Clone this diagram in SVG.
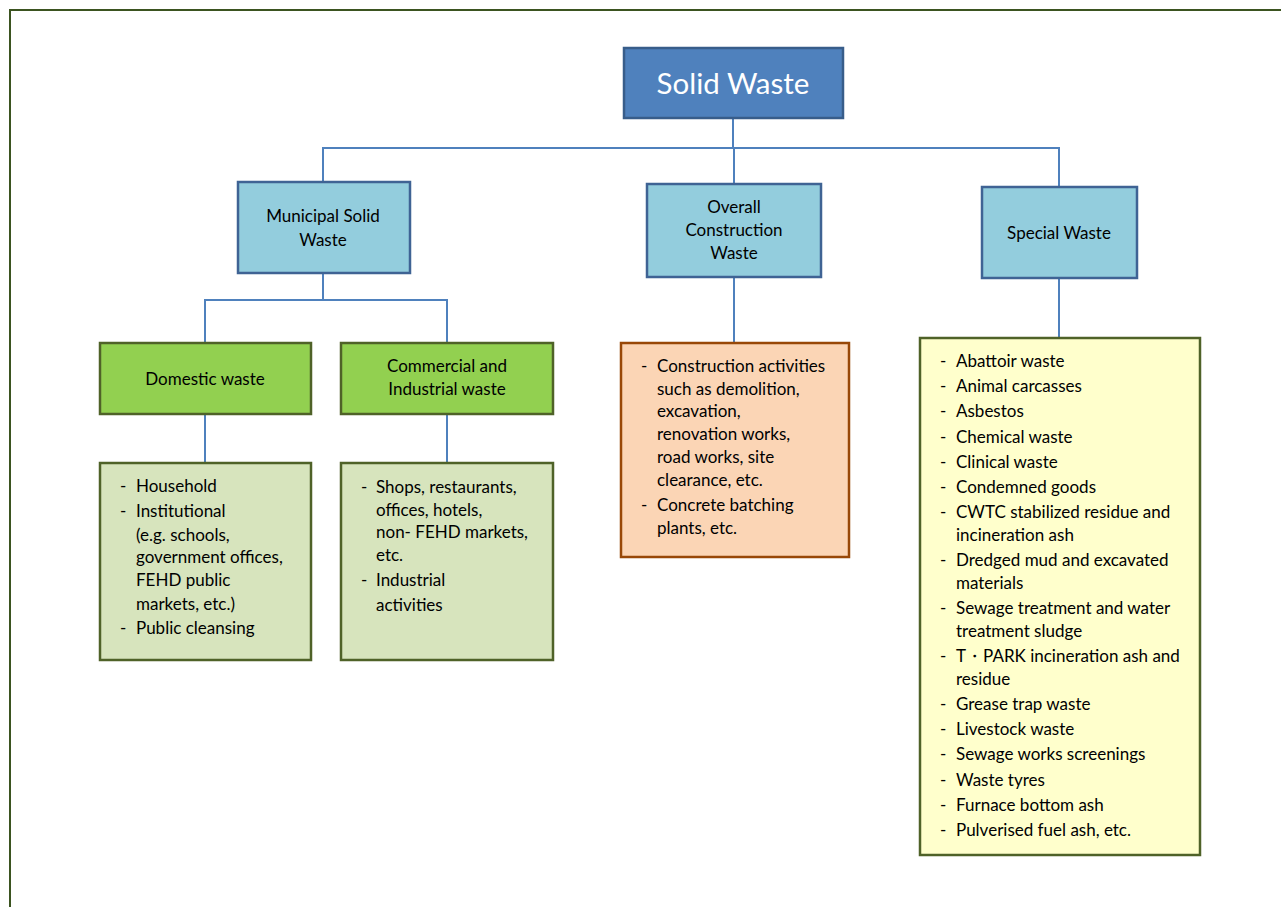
<svg xmlns="http://www.w3.org/2000/svg" width="1281" height="907" viewBox="0 0 1281 907">
<style>
text{font-family:Lato,"Open Sans","Liberation Sans",sans-serif;font-size:17px;fill:#000}
.c{text-anchor:middle}
.blue{fill:#93cddd;stroke:#3f6394;stroke-width:2.5}
.green{fill:#92d050;stroke:#4f6228;stroke-width:2.5}
.lg{fill:#d7e4bd;stroke:#4f6228;stroke-width:2.5}
.or{fill:#fbd5b5;stroke:#984807;stroke-width:2.5}
.ye{fill:#ffffcc;stroke:#4f6228;stroke-width:2.5}
.conn{fill:none;stroke:#4f81bd;stroke-width:2}
</style>
<rect width="1281" height="907" fill="#fff"/>
<path d="M10,907 V10 H1281" fill="none" stroke="#3b5320" stroke-width="2"/>
<g id="connectors" class="conn">
<path d="M733,118 V148 M323,182 V148 H1059 V187 M734,148 V185"/>
<path d="M323,273 V300 M205,343 V300 H447 V343"/>
<path d="M205,414 V463 M447,414 V463"/>
<path d="M734,277 V343"/>
<path d="M1059,278 V338"/>
</g>
<g id="solid-waste">
<rect x="624" y="48" width="219" height="70" fill="#4f81bd" stroke="#385d8a" stroke-width="2.5"/>
<text x="733" y="94" class="c" style="font-size:29.5px;fill:#fff">Solid Waste</text>
</g>
<g id="municipal">
<rect class="blue" x="238" y="182" width="172" height="91"/>
<text x="323" y="222" class="c">Municipal Solid</text>
<text x="323" y="246" class="c">Waste</text>
</g>
<g id="construction">
<rect class="blue" x="647" y="184" width="174" height="93"/>
<text x="734" y="213" class="c">Overall</text>
<text x="734" y="236" class="c">Construction</text>
<text x="734" y="259" class="c">Waste</text>
</g>
<g id="special">
<rect class="blue" x="982" y="187" width="155" height="91"/>
<text x="1059" y="239" class="c">Special Waste</text>
</g>
<g id="domestic">
<rect class="green" x="100" y="343" width="211" height="71"/>
<text x="205" y="385" class="c">Domestic waste</text>
</g>
<g id="commercial">
<rect class="green" x="341" y="343" width="212" height="71"/>
<text x="447" y="372" class="c">Commercial and</text>
<text x="447" y="395" class="c">Industrial waste</text>
</g>
<g id="domestic-list">
<rect class="lg" x="100" y="463" width="211" height="197"/>
<text x="120" y="492">-</text><text x="136" y="492">Household</text>
<text x="120" y="517">-</text><text x="136" y="517">Institutional</text>
<text x="136" y="541">(e.g. schools,</text>
<text x="136" y="563">government offices,</text>
<text x="136" y="586">FEHD public</text>
<text x="136" y="610">markets, etc.)</text>
<text x="120" y="634">-</text><text x="136" y="634">Public cleansing</text>
</g>
<g id="commercial-list">
<rect class="lg" x="341" y="463" width="212" height="197"/>
<text x="361" y="493">-</text><text x="376" y="493">Shops, restaurants,</text>
<text x="376" y="516">offices, hotels,</text>
<text x="376" y="538">non- FEHD markets,</text>
<text x="376" y="561">etc.</text>
<text x="361" y="586">-</text><text x="376" y="586">Industrial</text>
<text x="376" y="611">activities</text>
</g>
<g id="construction-list">
<rect class="or" x="621" y="343" width="228" height="214"/>
<text x="641" y="372">-</text><text x="657" y="372">Construction activities</text>
<text x="657" y="395">such as demolition,</text>
<text x="657" y="417">excavation,</text>
<text x="657" y="440">renovation works,</text>
<text x="657" y="463">road works, site</text>
<text x="657" y="486">clearance, etc.</text>
<text x="641" y="511">-</text><text x="657" y="511">Concrete batching</text>
<text x="657" y="534">plants, etc.</text>
</g>
<g id="special-list">
<rect class="ye" x="920" y="338" width="280" height="517"/>
<g>
<text x="940" y="367">-</text><text x="956" y="367">Abattoir waste</text>
<text x="940" y="392">-</text><text x="956" y="392">Animal carcasses</text>
<text x="940" y="417">-</text><text x="956" y="417">Asbestos</text>
<text x="940" y="443">-</text><text x="956" y="443">Chemical waste</text>
<text x="940" y="468">-</text><text x="956" y="468">Clinical waste</text>
<text x="940" y="493">-</text><text x="956" y="493">Condemned goods</text>
<text x="940" y="518">-</text><text x="956" y="518">CWTC stabilized residue and</text>
<text x="956" y="541">incineration ash</text>
<text x="940" y="566">-</text><text x="956" y="566">Dredged mud and excavated</text>
<text x="956" y="589">materials</text>
<text x="940" y="614">-</text><text x="956" y="614">Sewage treatment and water</text>
<text x="956" y="637">treatment sludge</text>
<text x="940" y="662">-</text><text x="956" y="662">T・PARK incineration ash and</text>
<text x="956" y="685">residue</text>
<text x="940" y="710">-</text><text x="956" y="710">Grease trap waste</text>
<text x="940" y="735">-</text><text x="956" y="735">Livestock waste</text>
<text x="940" y="760">-</text><text x="956" y="760">Sewage works screenings</text>
<text x="940" y="786">-</text><text x="956" y="786">Waste tyres</text>
<text x="940" y="811">-</text><text x="956" y="811">Furnace bottom ash</text>
<text x="940" y="836">-</text><text x="956" y="836">Pulverised fuel ash, etc.</text>
</g>
</g>
</svg>
